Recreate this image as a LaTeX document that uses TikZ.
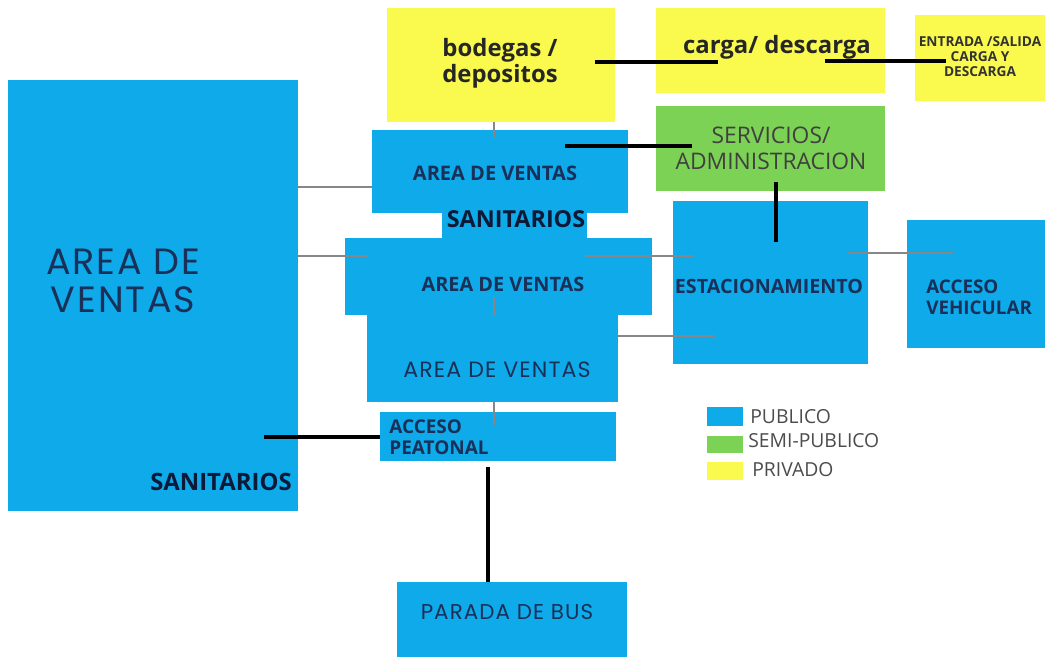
\documentclass[tikz,border=0pt]{standalone}
\usepackage{fontspec}
\setmainfont{Open Sans}
\newfontfamily\geofont[LetterSpace=5]{Poppins}
\usetikzlibrary{fit}

\definecolor{pubblue}{RGB}{14,170,234}
\definecolor{semigreen}{RGB}{124,210,84}
\definecolor{privyellow}{RGB}{250,250,78}
\definecolor{inknavy}{RGB}{26,48,88}
\definecolor{inkdark}{RGB}{12,26,56}
\definecolor{linkgray}{RGB}{135,135,135}

\tikzset{
  zone/.style={inner sep=0pt, outer sep=0pt, draw=none},
  pub/.style={zone, fill=pubblue},
  semi/.style={zone, fill=semigreen},
  priv/.style={zone, fill=privyellow},
  lbl/.style={inner sep=0pt, align=center, text=inknavy},
  weak/.style={draw=linkgray, line width=0.8pt},
  strong/.style={draw=black, line width=2pt},
}

\begin{document}
\begin{tikzpicture}[x=0.02cm, y=-0.02cm]

\useasboundingbox[fill=white] (0,0) rectangle (1047,656);

% zonas
\node[pub,  fit={(8,80) (298,511)}]      (ventasL) {};
\node[priv, fit={(387,8) (615,122)}]     (bodegas) {};
\node[priv, fit={(656,8) (885,93)}]      (carga) {};
\node[priv, fit={(915,15) (1045,101)}]   (entrada) {};
\node[semi, fit={(656,106) (885,191)}]   (servicios) {};
\node[pub,  fit={(442,210) (587,240)}]   (sanit) {};
\node[pub,  fit={(372,130) (628,213)}]   (ventasA) {};
\node[pub,  fit={(345,238) (652,315)}]   (ventasB) {};
\node[pub,  fit={(367,315) (618,402)}]   (ventasC) {};
\node[pub,  fit={(380,412) (616,461)}]   (peatonal) {};
\node[pub,  fit={(673,201) (868,364)}]   (estac) {};
\node[pub,  fit={(907,220) (1045,348)}]  (vehicular) {};
\node[pub,  fit={(397,582) (627,660)}]   (parada) {};

% textos
\node[lbl, font=\geofont\fontsize{20.8}{21.6}\selectfont] (ventasLt) at (123,281) {AREA DE\\VENTAS};
\node[lbl, text=inkdark, font=\bfseries\fontsize{13.6}{14}\selectfont] (sanitLt) at (221,482) {SANITARIOS};
\node[lbl, text=black!85, font=\bfseries\fontsize{13.6}{14.8}\selectfont] (bodegast) at (500,63) {bodegas /\\depositos};
\node[lbl, text=black!85, font=\bfseries\fontsize{13.6}{14.8}\selectfont] (cargat) at (777,47) {carga/ descarga};
\node[lbl, text=black!80, font=\bfseries\fontsize{7.8}{8.5}\selectfont] (entradat) at (980,57) {ENTRADA /SALIDA\\CARGA Y\\DESCARGA};
\node[lbl, text=black!75, font=\fontsize{13}{14.8}\selectfont] (serviciost) at (771,148) {SERVICIOS/\\ADMINISTRACION};
\node[lbl, font=\bfseries\fontsize{11.4}{13}\selectfont] (ventasAt) at (495,173) {AREA DE VENTAS};
\node[lbl, text=inkdark, font=\bfseries\fontsize{13.3}{14}\selectfont] (sanitt) at (516,219) {SANITARIOS};
\node[lbl, font=\bfseries\fontsize{11.3}{13}\selectfont] (ventasBt) at (503,284) {AREA DE VENTAS};
\node[lbl, font=\geofont\fontsize{12.6}{13}\selectfont] (ventasCt) at (497,370) {AREA DE VENTAS};
\node[lbl, align=left, anchor=west, font=\bfseries\fontsize{10.8}{12}\selectfont] (peatonalt) at (389,437) {ACCESO\\PEATONAL};
\node[lbl, font=\bfseries\fontsize{11.2}{13}\selectfont] (estact) at (769,286) {ESTACIONAMIENTO};
\node[lbl, align=left, anchor=west, font=\bfseries\fontsize{10.7}{12}\selectfont] (vehiculart) at (926,297) {ACCESO\\VEHICULAR};
\node[lbl, font=\geofont\fontsize{12.2}{13}\selectfont] (paradat) at (507,612) {PARADA DE BUS};

% leyenda
\node[pub,  fit={(707,407) (743,426)}] (legpub) {};
\node[semi, fit={(707,436) (743,453)}] (legsemi) {};
\node[priv, fit={(707,462) (743,480)}] (legpriv) {};
\node[lbl, anchor=west, text=black!70, font=\fontsize{11}{13}\selectfont] (legpubt) at (750,417) {PUBLICO};
\node[lbl, anchor=west, text=black!70, font=\fontsize{11}{13}\selectfont] (legsemit) at (748,441) {SEMI-PUBLICO};
\node[lbl, anchor=west, text=black!70, font=\fontsize{11}{13}\selectfont] (legprivt) at (752,470) {PRIVADO};

% extremos libres de las conexiones
\coordinate (bodR)   at (595,62);
\coordinate (carL)   at (718,62);
\coordinate (carR)   at (825,61);
\coordinate (entL)   at (946,61);
\coordinate (vtaAR)  at (565,146);
\coordinate (serL)   at (692,146);
\coordinate (serB)   at (776,182);
\coordinate (estT)   at (776,242);
\coordinate (vtaAT)  at (494,138);
\coordinate (vtaBL)  at (368,256);
\coordinate (vtaBR)  at (586,256);
\coordinate (estL)   at (693,256);
\coordinate (estR)   at (847,253);
\coordinate (vehL)   at (953,253);
\coordinate (vtaBB)  at (494,297);
\coordinate (estLL)  at (715,336);
\coordinate (peaT)   at (494,425);
\coordinate (ventR)  at (264,437);
\coordinate (peaB)   at (488,467);

% conexiones
\draw[strong] (bodR) -- (carL);
\draw[strong] (carR) -- (entL);
\draw[strong] (vtaAR) -- (serL);
\draw[strong] (serB) -- (estT);
\draw[weak] (bodegas.south -| vtaAT) -- (vtaAT);
\draw[weak] (ventasL.east |- 0,187) -- (ventasA.west |- 0,187);
\draw[weak] (ventasL.east |- vtaBL) -- (vtaBL);
\draw[weak] (vtaBR) -- (estL);
\draw[weak] (estR) -- (vehL);
\draw[weak] (vtaBB) -- (ventasB.south -| vtaBB);
\draw[weak] (ventasC.east |- estLL) -- (estLL);
\draw[weak] (ventasC.south -| peaT) -- (peaT);
\draw[strong] (ventR) -- (peatonal.west |- ventR);
\draw[strong] (peaB) -- (parada.north -| peaB);

\end{tikzpicture}
\end{document}
